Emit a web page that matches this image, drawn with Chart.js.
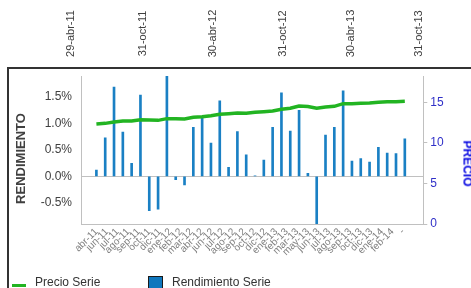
<!DOCTYPE html>
<html>
<head>
<meta charset="utf-8">
<script src="https://cdn.jsdelivr.net/npm/chart.js@4.4.1/dist/chart.umd.min.js"></script>
<style>
    html, body { margin: 0; padding: 0; background: #fff; }
    body { width: 471px; height: 288px; overflow: hidden; position: relative; font-family: "Liberation Sans", Arial, sans-serif; }
    #chart { position: absolute; left: 0; top: 0; }
    .frame { position: absolute; background: #333; }
    .top-date { position: absolute; width: 60px; height: 13px; line-height: 13px; text-align: center; font-size: 11px; color: #404040; transform: rotate(-90deg); white-space: nowrap; }
    .axis-title { position: absolute; height: 15px; line-height: 15px; text-align: center; font-weight: bold; white-space: nowrap; }
    .legend-text { position: absolute; top: 275px; font-size: 12px; line-height: 14px; color: #333; white-space: nowrap; }
</style>
</head>
<body>
<canvas id="chart" width="471" height="288"></canvas>
<div id="overlay"></div>
<script>
// dates on the strip above the chart
const topDates = ['29-abr-11', '31-oct-11', '30-abr-12', '31-oct-12', '30-abr-13', '31-oct-13'];

// one bar per month
const months = ['abr-11', 'may-11', 'jun-11', 'jul-11', 'ago-11', 'sep-11', 'oct-11', 'nov-11', 'dic-11',
    'ene-12', 'feb-12', 'mar-12', 'abr-12', 'may-12', 'jun-12', 'jul-12', 'ago-12', 'sep-12', 'oct-12', 'nov-12', 'dic-12',
    'ene-13', 'feb-13', 'mar-13', 'abr-13', 'may-13', 'jun-13', 'jul-13', 'ago-13', 'sep-13', 'oct-13', 'nov-13', 'dic-13',
    'ene-14', 'feb-14', 'mar-14'];

// monthly return in %
const rendimiento = [0.12, 0.73, 1.69, 0.84, 0.25, 1.54, -0.65, -0.62, 1.90, -0.06, -0.16, 0.93,
    1.10, 0.63, 1.43, 0.17, 0.85, 0.41, 0.01, 0.31, 0.93, 1.58, 0.86, 1.25,
    0.06, -1.00, 0.78, 0.93, 1.62, 0.29, 0.34, 0.27, 0.55, 0.44, 0.43, 0.71];

// price
const precio = [12.33, 12.41, 12.58, 12.70, 12.70, 12.86, 12.82, 12.78, 12.99, 12.99, 12.95, 13.15,
    13.23, 13.36, 13.52, 13.60, 13.69, 13.65, 13.77, 13.85, 13.93, 14.14, 14.27, 14.55,
    14.50, 14.28, 14.43, 14.51, 14.84, 14.84, 14.88, 14.92, 15.00, 15.08, 15.08, 15.13];

// category labels shown under the axis (every ~25 trading days)
const xLabels = ['abr-11', 'jun-11', 'jul-11', 'ago-11', 'sep-11', 'oct-11', 'dic-11', 'ene-12', 'feb-12', 'mar-12',
    'abr-12', 'jun-12', 'jul-12', 'ago-12', 'sep-12', 'oct-12', 'dic-12', 'ene-13', 'feb-13', 'mar-13',
    'may-13', 'jun-13', 'jul-13', 'ago-13', 'sep-13', 'oct-13', 'dic-13', 'ene-14', 'feb-14', '-'];
const labelStep = 1.2; // in months

const leftTicks = { min: -0.9, max: 1.9, step: 0.5 };
const rightTicks = { min: 0, max: 18.25, step: 5 };

Chart.defaults.font.family = '"Liberation Sans", Arial, sans-serif';

const overlay = document.getElementById('overlay');
function addDiv(cls, text, css) {
    const d = document.createElement('div');
    d.className = cls;
    if (text) d.textContent = text;
    Object.assign(d.style, css);
    overlay.appendChild(d);
    return d;
}

// frame
addDiv('frame', '', { left: '7px', top: '67px', width: '464px', height: '2px' });
addDiv('frame', '', { left: '7px', top: '67px', width: '2px', height: '221px' });

// top date strip
const topX = [70, 142, 212, 282, 350, 418];
topDates.forEach((t, i) => {
    addDiv('top-date', t, { left: (topX[i] - 30) + 'px', top: '27px' });
});

// axis titles
addDiv('axis-title', 'RENDIMIENTO', { left: '-40px', top: '151px', width: '120px', fontSize: '13px', color: '#404040', transform: 'rotate(-90deg)' });
addDiv('axis-title', 'PRECIO', { left: '427px', top: '156px', width: '80px', fontSize: '12px', color: '#0000e0', transform: 'rotate(90deg)' });

// legend
addDiv('frame', '', { left: '12px', top: '284px', width: '14px', height: '3px', background: '#22b422' });
addDiv('legend-text', 'Precio Serie', { left: '35px' });
addDiv('frame', '', { left: '148px', top: '276px', width: '13px', height: '13px', background: '#0f77bd', border: '1px solid #1a1a1a' });
addDiv('legend-text', 'Rendimiento Serie', { left: '172px' });

const ctx = document.getElementById('chart');
new Chart(ctx, {
    data: {
        datasets: [
            {
                type: 'line',
                label: 'Precio Serie',
                data: months.map((m, i) => ({ x: i, y: precio[i] })),
                yAxisID: 'y1',
                borderColor: '#22b422',
                borderWidth: 3.5,
                pointRadius: 0,
                tension: 0,
                order: 0
            },
            {
                type: 'bar',
                label: 'Rendimiento Serie',
                data: months.map((m, i) => ({ x: i, y: rendimiento[i] })),
                yAxisID: 'y',
                backgroundColor: '#1a80c4',
                barThickness: 2,
                order: 1
            }
        ]
    },
    options: {
        responsive: false,
        animation: false,
        layout: { padding: { top: 76, left: 0, right: 0, bottom: 0 } },
        plugins: {
            legend: { display: false },
            tooltip: { enabled: false }
        },
        scales: {
            x: {
                type: 'linear',
                position: 'bottom',
                min: -1.1,
                max: 36.45,
                afterBuildTicks: (scale) => {
                    scale.ticks = xLabels.map((l, j) => ({ value: j * labelStep }));
                },
                afterFit: (scale) => { scale.height = 64; },
                ticks: {
                    autoSkip: false,
                    minRotation: 45,
                    maxRotation: 45,
                    padding: 2,
                    color: '#808080',
                    font: { size: 10 },
                    callback: (v, i) => xLabels[i]
                },
                grid: { drawOnChartArea: false, drawTicks: false },
                border: { color: '#c0c0c0', width: 1 }
            },
            y: {
                position: 'left',
                min: leftTicks.min,
                max: leftTicks.max,
                afterFit: (scale) => { scale.width = 81; },
                ticks: {
                    stepSize: leftTicks.step,
                    includeBounds: false,
                    padding: 9,
                    color: '#404040',
                    font: { size: 12 },
                    callback: (v) => v.toFixed(1) + '%'
                },
                grid: {
                    drawTicks: false,
                    color: (c) => (c.tick && c.tick.value === 0 ? '#c0c0c0' : 'rgba(0,0,0,0)')
                },
                border: { color: '#c0c0c0', width: 1 }
            },
            y1: {
                position: 'right',
                min: rightTicks.min,
                max: rightTicks.max,
                afterFit: (scale) => { scale.width = 47.7; },
                ticks: {
                    stepSize: rightTicks.step,
                    includeBounds: false,
                    padding: 3,
                    color: '#3030c8',
                    font: { size: 12 }
                },
                grid: { drawOnChartArea: false, tickLength: 4, color: '#c0c0c0' },
                border: { color: '#c0c0c0', width: 1 }
            }
        }
    }
});
</script>
</body>
</html>
